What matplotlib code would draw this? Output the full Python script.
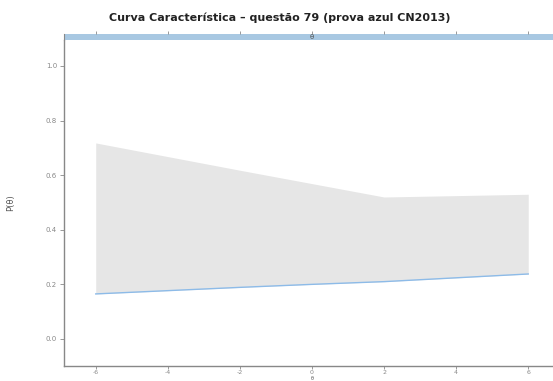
import matplotlib.pyplot as plt
import numpy as np

# theta grid and curve values
theta = [-6, -4, -2, 0, 2, 4, 6]
p_line = [0.165, 0.177, 0.189, 0.200, 0.210, 0.224, 0.238]
p_upper = [0.718, 0.668, 0.618, 0.569, 0.520, 0.525, 0.530]

x_ticks = [-6, -4, -2, 0, 2, 4, 6]
y_ticks = [0.0, 0.2, 0.4, 0.6, 0.8, 1.0]

W, H = 553, 381
fig = plt.figure(figsize=(W / 100, H / 100), dpi=100)

# main panel (right border runs off the image)
ax = fig.add_axes([64 / W, 1 - 366 / H, (556 - 64) / W, (366 - 40) / H])
ax.fill_between(theta, p_line, p_upper, color='#e6e6e6', lw=0)
ax.plot(theta, p_line, color='#8dbbe8', lw=1)

ax.set_xlim(-6.88, 6.77)
ax.set_ylim(-0.099, 1.095)
ax.set_xticks(x_ticks)
ax.set_xticklabels([str(v) for v in x_ticks])
ax.set_yticks(y_ticks)
ax.set_yticklabels(['%.1f' % v for v in y_ticks])
for s in ['top', 'right']:
    ax.spines[s].set_visible(False)
for s in ['left', 'bottom']:
    ax.spines[s].set_color('#888888')
    ax.spines[s].set_linewidth(1)
ax.tick_params(colors='#888888', labelsize=5, length=3, width=0.6, pad=2)
ax.tick_params(axis='x', labelsize=4.5, length=2.5, pad=0.5)
ax.set_ylabel('P(θ)', fontsize=6, color='#555555', labelpad=22)
# x label sits at the very bottom edge, keep it inside the image
fig.text(312 / W, 0.0, 'θ', fontsize=3.5, ha='center', va='bottom', color='#555555')

# lattice-style strip on top
strip = fig.add_axes([64 / W, 1 - 40 / H, (556 - 64) / W, 6 / H])
strip.set_facecolor('#a8c8e2')
strip.set_xlim(ax.get_xlim())
strip.set_yticks([])
strip.set_xticks(x_ticks)
strip.set_xticklabels([])
strip.tick_params(axis='x', bottom=False, top=True, length=2, width=0.6, colors='#888888')
for s in strip.spines.values():
    s.set_visible(False)
strip.spines['left'].set_visible(True)
strip.spines['left'].set_color('#888888')
strip.text(0, 0.5, 'θ', fontsize=5, ha='center', va='center', color='#555555')

fig.text(280 / W, 1 - 18 / H, 'Curva Característica – questão 79 (prova azul CN2013)',
         ha='center', va='center', fontsize=8, fontweight='bold', color='#222222')

fig.savefig('out.png', dpi=100)
